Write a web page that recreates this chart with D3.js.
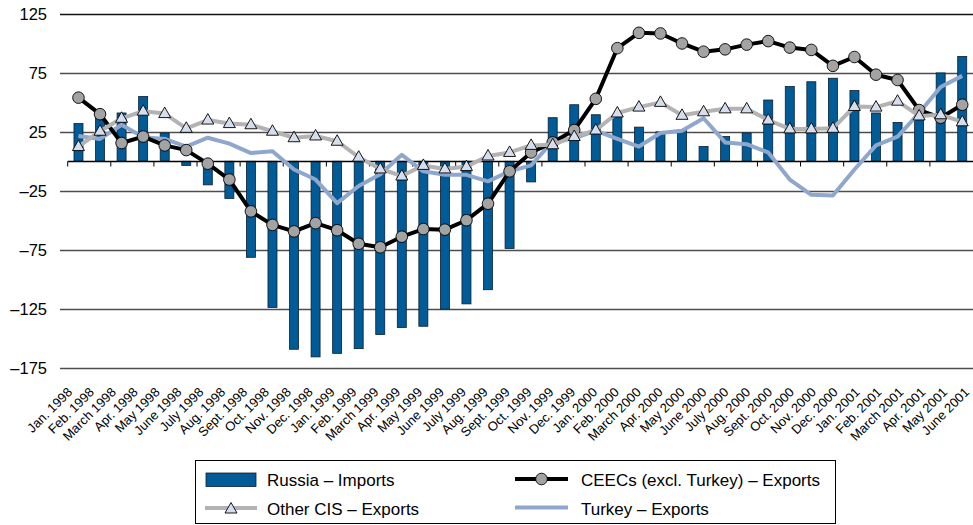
<!DOCTYPE html>
<html>
<head>
<meta charset="utf-8">
<script src="https://d3js.org/d3.v7.min.js"></script>
<style>
  body { margin: 0; background: #fff; }
  text { font-family: "Liberation Sans", Arial, Helvetica, sans-serif; fill: #000; }
</style>
</head>
<body>
<script>
// Months on the x axis
var months = ["Jan. 1998", "Feb. 1998", "March 1998", "Apr. 1998", "May 1998", "June 1998",
  "July 1998", "Aug. 1998", "Sept. 1998", "Oct. 1998", "Nov. 1998", "Dec. 1998",
  "Jan. 1999", "Feb. 1999", "March 1999", "Apr. 1999", "May 1999", "June 1999",
  "July 1999", "Aug. 1999", "Sept. 1999", "Oct. 1999", "Nov. 1999", "Dec. 1999",
  "Jan. 2000", "Feb. 2000", "March 2000", "Apr. 2000", "May 2000", "June 2000",
  "July 2000", "Aug. 2000", "Sept. 2000", "Oct. 2000", "Nov. 2000", "Dec. 2000",
  "Jan. 2001", "Feb. 2001", "March 2001", "Apr. 2001", "May 2001", "June 2001"];

// Series
var russiaImports = [32, 38, 41, 55, 24, -3.5, -20, -31.5, -81.5, -124, -159.5, -166,
  -163, -159, -147, -141, -140, -125.5, -121, -109, -74, -17.5, 37, 48,
  39.5, 38, 29, 25, 26.5, 12.5, 21, 24, 52, 63.5, 67.5, 70.5,
  60, 41, 33, 45, 75, 89];
var ceecsExports = [54, 40, 15.5, 21, 13.5, 9.5, -2, -15.5, -42.5, -54, -59.5, -52.5,
  -58.5, -70, -73, -64, -57.5, -58, -50, -36, -8.5, 7.5, 16, 26.5,
  53, 96, 109, 108.5, 100, 93, 95, 99, 102, 96.5, 94.5, 81,
  88.5, 73.5, 69, 43.5, 37, 48];
var otherCisExports = [12.5, 25.5, 36.5, 42.5, 40.5, 28, 35, 32, 31, 25.5, 20, 21.5,
  17, 3.5, -6.5, -12.5, -3.5, -6.5, -4.5, 4.5, 7.5, 13.5, 14, 21,
  26.5, 41, 46, 50, 39, 42, 44.5, 44.5, 35, 27.5, 27.5, 28,
  46.5, 46, 51, 38.5, 39.5, 33.5];
var turkeyExports = [21.5, 19, 31, 20.5, 19, 12.5, 20, 15, 7, 8.5, -7, -15.5,
  -35.5, -21, -11, 5.5, -8.5, -11.5, -11.5, -17, -8.5, -3.5, 17, 19.5,
  26, 19, 12.5, 24, 26, 36.5, 16, 14.5, 7.5, -15.5, -28.5, -29,
  -7, 13.5, 21, 41, 63, 72.5];

var yTicks = [125, 75, 25, -25, -75, -125, -175];
var legendItems = ["Russia – Imports", "CEECs (excl. Turkey) – Exports", "Other CIS – Exports", "Turkey – Exports"];

// SVG area
var svgWidth = 973;
var svgHeight = 525;
var plotLeft = 67.7;
var plotRight = 973;

var svg = d3.select("body")
  .append("svg")
  .attr("width", svgWidth)
  .attr("height", svgHeight);

// Scales
var xScale = d3.scaleBand()
  .domain(months)
  .range([plotLeft, plotRight])
  .padding(0);

// the rotated labels are spread a little wider than the bars
var labelScale = d3.scalePoint()
  .domain(months)
  .range([73, 970]);

var yScale = d3.scaleLinear()
  .domain([-175, 125])
  .range([367.5, 14]);

var cx = function(i) { return xScale(months[i]) + xScale.bandwidth() / 2; };

// gridlines
svg.append("g")
  .selectAll("line")
  .data(yTicks)
  .enter()
  .append("line")
  .attr("x1", 60)
  .attr("x2", svgWidth)
  .attr("y1", d => Math.round(yScale(d)) + 0.5)
  .attr("y2", d => Math.round(yScale(d)) + 0.5)
  .attr("stroke", d => d == 125 ? "#111" : "#4d4d4d")
  .attr("stroke-width", 1.4);

// y labels
svg.append("g")
  .selectAll("text")
  .data(yTicks)
  .enter()
  .append("text")
  .attr("x", 47)
  .attr("y", d => yScale(d) + 6)
  .attr("text-anchor", "end")
  .style("font-size", "16.5px")
  .text(d => d < 0 ? "–" + Math.abs(d) : d);

// bars
svg.append("g")
  .selectAll("rect")
  .data(russiaImports)
  .enter()
  .append("rect")
  .attr("x", (d, i) => cx(i) - 4.5)
  .attr("width", 9)
  .attr("y", d => yScale(Math.max(0, d)))
  .attr("height", d => Math.abs(yScale(d) - yScale(0)))
  .attr("fill", "#005b96")
  .attr("stroke", "#0a1f33")
  .attr("stroke-width", 0.8);

// zero axis with ticks every two months
var zeroY = Math.round(yScale(0)) + 0.5;
svg.append("line")
  .attr("x1", plotLeft)
  .attr("x2", plotRight)
  .attr("y1", zeroY)
  .attr("y2", zeroY)
  .attr("stroke", "#000")
  .attr("stroke-width", 1.3);

svg.append("g")
  .selectAll("line")
  .data(months.filter((m, i) => i % 2 == 0))
  .enter()
  .append("line")
  .attr("x1", d => xScale(d))
  .attr("x2", d => xScale(d))
  .attr("y1", zeroY)
  .attr("y2", zeroY + 5)
  .attr("stroke", "#000")
  .attr("stroke-width", 1);

// x labels, rotated
svg.append("g")
  .selectAll("text")
  .data(months)
  .enter()
  .append("text")
  .attr("transform", d => `translate(${labelScale(d)}, 393) rotate(-45)`)
  .attr("text-anchor", "end")
  .style("font-size", "13px")
  .text(d => d);

// lines
var lineGen = function(values) {
  return d3.line()
    .x((d, i) => cx(i))
    .y(d => yScale(d))(values);
};

svg.append("path")
  .attr("d", lineGen(turkeyExports))
  .attr("fill", "none")
  .attr("stroke", "#8fa7cc")
  .attr("stroke-width", 4)
  .attr("stroke-linejoin", "round");

svg.append("path")
  .attr("d", lineGen(ceecsExports))
  .attr("fill", "none")
  .attr("stroke", "#000")
  .attr("stroke-width", 4)
  .attr("stroke-linejoin", "round");

svg.append("g")
  .selectAll("circle")
  .data(ceecsExports)
  .enter()
  .append("circle")
  .attr("cx", (d, i) => cx(i))
  .attr("cy", d => yScale(d))
  .attr("r", 5.8)
  .attr("fill", "#a3a3a3")
  .attr("stroke", "#000")
  .attr("stroke-width", 0.9);

svg.append("path")
  .attr("d", lineGen(otherCisExports))
  .attr("fill", "none")
  .attr("stroke", "#b3b3b3")
  .attr("stroke-width", 4)
  .attr("stroke-linejoin", "round");

var triPath = "M0,-6.5L6,4L-6,4Z";

svg.append("g")
  .selectAll("path")
  .data(otherCisExports)
  .enter()
  .append("path")
  .attr("transform", (d, i) => `translate(${cx(i)}, ${yScale(d)})`)
  .attr("d", triPath)
  .attr("fill", "#d6ddec")
  .attr("stroke", "#000")
  .attr("stroke-width", 0.9);

// legend
var legend = svg.append("g");

legend.append("rect")
  .attr("x", 195.5)
  .attr("y", 460.5)
  .attr("width", 640)
  .attr("height", 63)
  .attr("fill", "#fff")
  .attr("stroke", "#000")
  .attr("stroke-width", 1);

legend.append("rect")
  .attr("x", 206)
  .attr("y", 473)
  .attr("width", 50)
  .attr("height", 13.5)
  .attr("fill", "#005b96")
  .attr("stroke", "#0a1f33")
  .attr("stroke-width", 0.8);

legend.append("line")
  .attr("x1", 205).attr("x2", 257)
  .attr("y1", 508).attr("y2", 508)
  .attr("stroke", "#b3b3b3")
  .attr("stroke-width", 4);

legend.append("path")
  .attr("transform", "translate(231, 509)")
  .attr("d", triPath)
  .attr("fill", "#d6ddec")
  .attr("stroke", "#000")
  .attr("stroke-width", 0.9);

legend.append("line")
  .attr("x1", 515).attr("x2", 568)
  .attr("y1", 479).attr("y2", 479)
  .attr("stroke", "#000")
  .attr("stroke-width", 4);

legend.append("circle")
  .attr("cx", 541.5)
  .attr("cy", 479)
  .attr("r", 5.8)
  .attr("fill", "#a3a3a3")
  .attr("stroke", "#000")
  .attr("stroke-width", 0.9);

legend.append("line")
  .attr("x1", 515).attr("x2", 568)
  .attr("y1", 507.5).attr("y2", 507.5)
  .attr("stroke", "#8fa7cc")
  .attr("stroke-width", 4);

var legendPos = [[267, 486], [581, 486], [267, 515], [581, 515]];
legend.selectAll("text")
  .data(legendItems)
  .enter()
  .append("text")
  .attr("x", (d, i) => legendPos[i][0])
  .attr("y", (d, i) => legendPos[i][1])
  .style("font-size", "17px")
  .text(d => d);
</script>
</body>
</html>
